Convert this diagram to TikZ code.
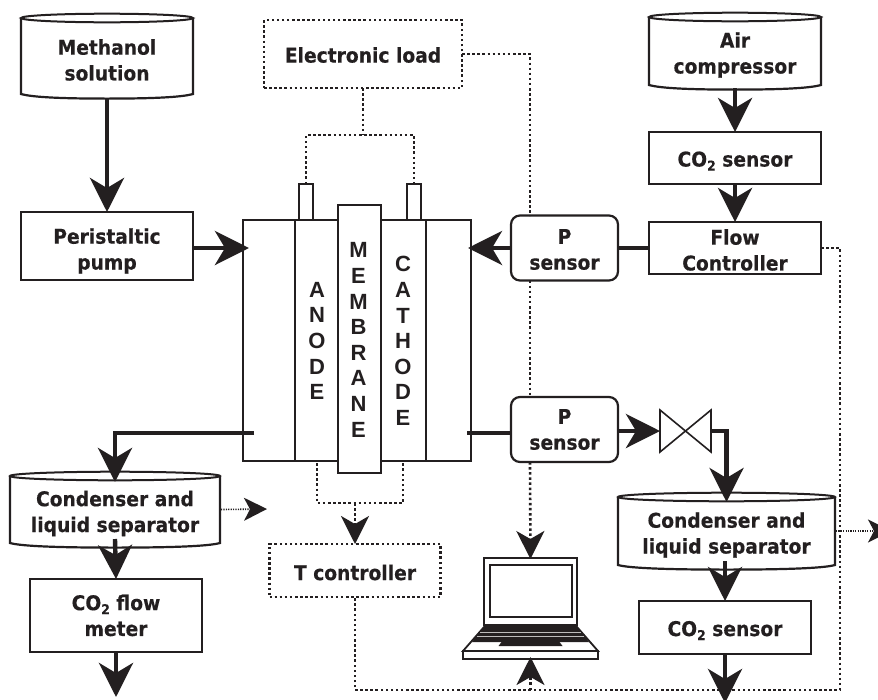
\documentclass[tikz,border=0pt]{standalone}
\usepackage{fontspec}
\setmainfont{DejaVu Sans}[FakeStretch=0.92,BoldFeatures={FakeBold=0.35}]
\newfontfamily\arialfont{Liberation Sans}
\usetikzlibrary{arrows.meta,calc}
\definecolor{ink}{HTML}{231F20}
\newcommand{\subtwo}{\raisebox{-4pt}{\fontsize{13.5}{13.5}\selectfont 2}}
\tikzset{
  x=1pt,y=-1pt,
  every node/.style={outer sep=0pt,inner sep=0pt,text=ink,font=\fontsize{20.3}{25.8}\selectfont\bfseries,align=center},
  boxline/.style={draw=ink,line width=2.2pt},
  plainbox/.style={boxline,fill=white},
  sensorbox/.style={boxline,fill=white,rounded corners=9pt},
  dotbox/.style={dotline},
  letters/.style={font=\arialfont\fontsize{22}{25.6}\selectfont\bfseries},
  flow/.style={draw=ink,line width=4.4pt,-{Stealth[length=34pt,width=34pt,inset=10pt]}},
  flowplain/.style={draw=ink,line width=4.4pt},
  dotline/.style={draw=ink,line width=2.6pt,dash pattern=on 2.5pt off 2.6pt},
  dotflow/.style={dotline,-{Stealth[length=28pt,width=28pt,inset=8pt]}},
  fineflow/.style={draw=ink,line width=1.6pt,dash pattern=on 1.2pt off 1.2pt,-{Stealth[length=23pt,width=23pt,inset=6pt]}},
}
% name, drop, text: writes the text in the named box, lowered by drop
\newcommand{\boxtext}[3]{\node[yshift=-#2pt] (#1-text) at (#1.center) {#3};}
% name, centre x, top y, width, height, text
\newcommand{\cylnode}[6]{%
  \node[minimum width=#4pt,minimum height=#5pt] (#1) at (#2,#3+#5/2) {};
  \boxtext{#1}{4}{#6}
  \draw[boxline] (#1.north west) -- (#1.south west)
     .. controls ([shift={(12,3.4)}]#1.south west) and ([shift={(#4/4,4.6)}]#1.south west) .. ([yshift=-4.6pt]#1.south)
     .. controls ([shift={(#4/4,4.6)}]#1.south) and ([shift={(-12,3.4)}]#1.south east) .. (#1.south east) -- (#1.north east);
  \draw[boxline,line width=2pt] (#1.north) ellipse [x radius=#4/2,y radius=4.3];
}
\begin{document}
\begin{tikzpicture}
\useasboundingbox (0,0) rectangle (878,699);
\clip (0,0) rectangle (878,699);
\fill[white] (0,0) rectangle (878,699);

% ---- left column
\cylnode{meth}{107}{18}{172}{76}{Methanol\\solution}
\node[plainbox,minimum width=172pt,minimum height=68pt] (pump) at (107,246) {};
\boxtext{pump}{5}{Peristaltic\\pump}
\cylnode{condL}{115}{476}{210}{67}{Condenser and\\liquid separator}
\node[plainbox,minimum width=172pt,minimum height=73pt] (flowm) at (116,615.5) {};
\boxtext{flowm}{0}{CO\subtwo{} flow\\meter}
\coordinate (outL) at (116,697);
\coordinate (ventL) at (267,509);

% ---- stack
\node[plainbox,minimum width=14pt,minimum height=37pt] (termA) at (306,202.5) {};
\node[plainbox,minimum width=14pt,minimum height=37pt] (termC) at (414,202.5) {};
\node[plainbox,minimum width=228pt,minimum height=241pt] (stack) at (357,340.5) {};
\node[boxline,minimum width=131pt,minimum height=241pt] (elec) at (360.5,340.5) {};
\node[plainbox,minimum width=43pt,minimum height=268pt] (memb) at (359.5,339) {};
\node[letters] (anode) at (317,341) {A\\N\\O\\D\\E};
\node[letters] (mem) at (358.5,340) {M\\E\\M\\B\\R\\A\\N\\E};
\node[letters] (cath) at (403,341) {C\\A\\T\\H\\O\\D\\E};
\coordinate (stackOutL) at (254,433);
\coordinate (stackOutR) at (467,433);
\coordinate (stackInL) at (249,248);
\coordinate (stackInR) at (468,248);
\coordinate (botA) at (317,463);
\coordinate (botC) at (403,463);

% ---- dotted boxes
\node[dotbox,minimum width=198pt,minimum height=68pt] (load) at (363,54) {};
\boxtext{load}{1}{Electronic load}
\node[dotbox,minimum width=171pt,minimum height=53pt] (tc) at (355,570.5) {};
\boxtext{tc}{2}{T controller}

% ---- right side
\cylnode{air}{735}{17}{172}{68}{Air\\compressor}
\node[plainbox,minimum width=172pt,minimum height=52pt] (co2a) at (735,158) {};
\boxtext{co2a}{3}{CO\subtwo{} sensor}
\node[plainbox,minimum width=172pt,minimum height=52pt] (fc) at (735,248) {};
\boxtext{fc}{2}{Flow\\Controller}
\node[sensorbox,minimum width=107pt,minimum height=65pt] (pa) at (564.5,248) {};
\boxtext{pa}{1.5}{P\\sensor}
\node[sensorbox,minimum width=107pt,minimum height=65pt] (pb) at (564.5,429.5) {};
\boxtext{pb}{0}{P\\sensor}
\cylnode{condR}{726.5}{497}{217}{68}{Condenser and\\liquid separator}
\node[plainbox,minimum width=172pt,minimum height=53pt] (co2b) at (725,627.5) {};
\boxtext{co2b}{3}{CO\subtwo{} sensor}
\coordinate (outR) at (725,703);
\coordinate (ventR) at (891,531);

% ---- valve
\node[minimum width=51pt,minimum height=42pt] (valve) at (685.5,431) {};
\draw[draw=ink,line width=1.6pt,line join=miter] (valve.north west) -- (valve.south east) -- (valve.north east) -- (valve.south west) -- cycle;

% ---- laptop
\node[plainbox,minimum width=93pt,minimum height=67pt] (lapscr) at (530.5,591.5) {};
\node[boxline,line width=1.8pt,minimum width=82pt,minimum height=52pt] (lapin) at (531,591) {};
\node[plainbox,minimum width=135pt,minimum height=8pt] (lapbase) at (530.5,655) {};
\draw[fill=white,draw=ink,line width=1.8pt] ([yshift=-2pt]lapscr.south west) -- (lapbase.north west) -- (lapbase.north east) -- ([yshift=-2pt]lapscr.south east) -- cycle;
\fill[ink] ([shift={(-1,3)}]lapscr.south west) -- ([shift={(-12,17)}]lapscr.south west) -- ([shift={(12,17)}]lapscr.south east) -- ([shift={(1,3)}]lapscr.south east) -- cycle;
\draw[white!70!ink,line width=.6pt] ([shift={(-4,7)}]lapscr.south west) -- ([shift={(4,7)}]lapscr.south east);
\draw[white!70!ink,line width=.6pt] ([shift={(-7,11)}]lapscr.south west) -- ([shift={(7,11)}]lapscr.south east);
\fill[ink] ([shift={(-29,17)}]lapscr.south) -- ([shift={(29,17)}]lapscr.south) -- ([shift={(32,21)}]lapscr.south) -- ([shift={(-32,21)}]lapscr.south) -- cycle;

% ---- thick flow connectors
\draw[flow] (meth.south |- 0,98) -- (pump.north);
\draw[flow] (pump.east |- stackInL) -- (stackInL);
\draw[flow] (pa.west) -- (stackInR);
\draw[flowplain] (fc.west) -- (pa.east);
\draw[flow] (air.south |- 0,88) -- (co2a.north);
\draw[flow] (co2a.south) -- (fc.north);
\draw[flow] (stackOutL) -| ([yshift=-6pt]condL.north);
\draw[flowplain] (stackOutR) -- (stackOutR -| pb.west);
\draw[flow] (pb.east |- valve.west) -- (valve.west);
\draw[flow] (valve.east) -| ([yshift=-5pt]condR.north);
\draw[flow] ([yshift=4pt]condL.south) -- ([xshift=0pt]flowm.north);
\draw[flow] (flowm.south) -- (outL);
\draw[flow] ([yshift=4pt,xshift=-1.5pt]condR.south) -- (co2b.north);
\draw[flow] (co2b.south) -- (outR);

% ---- dotted connectors
\coordinate (jt) at (load.south |- 0,135);
\draw[dotline] (load.south) -- (jt);
\draw[dotline] (termA.north) |- (jt) -| (termC.north);
\coordinate (jb) at (tc.north |- 0,503);
\draw[dotline] (botA) |- (jb) -| (botC);
\draw[dotflow] (jb) -- (tc.north);
\coordinate (busA) at ([xshift=-34.5pt]pa.north);
\coordinate (busB) at ([xshift=-34.5pt]pa.south);
\coordinate (busC) at ([xshift=-34.5pt]pb.north);
\coordinate (busD) at ([xshift=-34.5pt]pb.south);
\draw[dotline] (load.east) -| (busA);
\draw[dotline] (busB) -- (busC);
\draw[dotflow] (busD) -- ([yshift=-1pt]lapscr.north);
\coordinate (rb) at (840,690);
\draw[dotline] (fc.east) -| (rb) -| (tc.south);
\draw[dotflow] (lapbase.south |- rb) -- ([yshift=2pt]lapbase.south);
\draw[fineflow] (condL.east) ++(1,0) -- (ventL);
\draw[fineflow] (condR.east) ++(1,0) -- (ventR);
\end{tikzpicture}
\end{document}
